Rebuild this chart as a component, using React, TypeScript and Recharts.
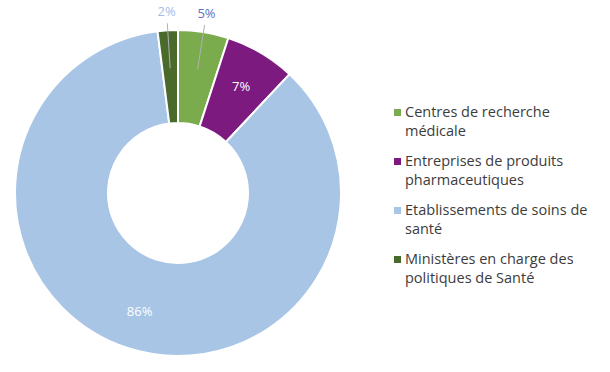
import React from "react";
import { PieChart, Pie, Cell, Legend } from "recharts";

const categories = [
  "Centres de recherche médicale",
  "Entreprises de produits pharmaceutiques",
  "Etablissements de soins de santé",
  "Ministères en charge des politiques de Santé",
];
const legendLines = [
  ["Centres de recherche", "médicale"],
  ["Entreprises de produits", "pharmaceutiques"],
  ["Etablissements de soins de", "santé"],
  ["Ministères en charge des", "politiques de Santé"],
];
const values = [5, 7, 86, 2];
const colors = ["#7aac4d", "#7d1a80", "#a8c5e6", "#4a6a2c"];
const outsideLabelColors = ["#5b72c2", "", "", "#a6bce6"];

const data = categories.map((name, i) => ({ name, value: values[i] }));

const FONT = "'Open Sans', sans-serif";
const RAD = Math.PI / 180;

const renderLabel = (props: any) => {
  const { cx, cy, midAngle, index, value } = props;
  const cos = Math.cos(-midAngle * RAD);
  const sin = Math.sin(-midAngle * RAD);
  if (value < 6) {
    const r1 = 125, r2 = 170, r3 = 182;
    return (
      <g>
        <line
          x1={cx + r1 * cos}
          y1={cy + r1 * sin}
          x2={cx + r2 * cos}
          y2={cy + r2 * sin}
          stroke="#b0b0b0"
          strokeWidth={1}
        />
        <text
          x={cx + r3 * cos}
          y={cy + r3 * sin}
          fill={outsideLabelColors[index]}
          textAnchor="middle"
          dominantBaseline="central"
          fontSize={13}
          fontFamily={FONT}
        >
          {value}%
        </text>
      </g>
    );
  }
  const r = 124;
  return (
    <text
      x={cx + r * cos}
      y={cy + r * sin}
      fill="#ffffff"
      textAnchor="middle"
      dominantBaseline="central"
      fontSize={13}
      fontFamily={FONT}
    >
      {value}%
    </text>
  );
};

const renderLegend = () => (
  <div style={{ fontFamily: FONT, fontSize: 14.5, color: "#3c3c3c" }}>
    {legendLines.map((lines, i) => (
      <div key={i} style={{ display: "flex", alignItems: "flex-start", marginBottom: 11 }}>
        <div
          style={{
            width: 7,
            height: 7,
            background: colors[i],
            marginTop: 7,
            marginRight: 4,
            flexShrink: 0,
          }}
        />
        <div style={{ lineHeight: "19px" }}>
          {lines.map((l, j) => (
            <div key={j}>{l}</div>
          ))}
        </div>
      </div>
    ))}
  </div>
);

export default function App() {
  return (
    <div style={{ position: "absolute", left: 0, top: 0, background: "#fff" }}>
      <PieChart width={610} height={372} margin={{ top: 0, right: 0, bottom: 0, left: 0 }}>
        <Pie
          data={data}
          dataKey="value"
          nameKey="name"
          cx={178}
          cy={193}
          innerRadius={70}
          outerRadius={163}
          startAngle={90}
          endAngle={-270}
          stroke="#ffffff"
          strokeWidth={2}
          label={renderLabel}
          labelLine={false}
          isAnimationActive={false}
        >
          {data.map((d, i) => (
            <Cell key={d.name} fill={colors[i]} />
          ))}
        </Pie>
        <Legend
          content={renderLegend}
          wrapperStyle={{ position: "absolute", left: 394, top: 102, width: 216 }}
        />
      </PieChart>
    </div>
  );
}
